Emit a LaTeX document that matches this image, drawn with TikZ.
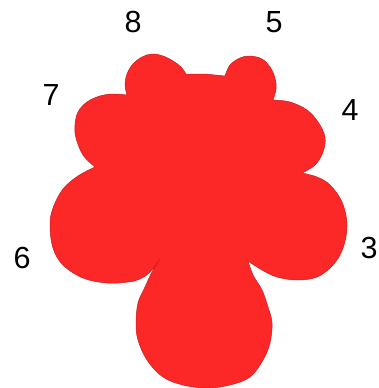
\documentclass[tikz,border=0pt]{standalone}
\usepackage{fontspec}
\setmainfont{Liberation Sans}
\definecolor{blob}{RGB}{252,40,40}
\definecolor{blobedge}{RGB}{200,30,30}
\begin{document}
\begin{tikzpicture}[x=1pt,y=-1pt,
  lbl/.style={inner sep=0pt,font=\fontsize{30.5}{30.5}\selectfont},
  lobe/.style={smooth,tension=0.6}]
\useasboundingbox (0,0) rectangle (379,388);
\filldraw[fill=blob,draw=blobedge,line width=0.5pt,line join=miter]
  plot[lobe] coordinates {(127,95) (125,85) (127,74) (133,64) (142,57) (152,54) (163,56) (173,61) (181,67) (186,74)}
  -- (205,74) --
  plot[lobe] coordinates {(225,76) (230,65) (240,58) (250,56) (262,59) (270,67) (275,78) (276,89) (273,100)}
  --
  plot[lobe] coordinates {(273,100) (290,102) (307,110) (318,122) (325,137) (323,152) (315,165) (302,173)}
  --
  plot[lobe] coordinates {(302,173) (317,177) (330,185) (342,202) (347,225) (343,248) (333,265) (317,277) (297,280) (277,277) (262,270) (248,261)}
  --
  plot[lobe] coordinates {(248,261) (253,275) (262,290) (268,307) (272,323) (270,343) (263,360) (250,377) (230,385) (207,388) (183,385) (163,377) (147,360) (138,340) (136,323) (138,303) (145,287) (152,272) (160,259)}
  --
  plot[lobe] coordinates {(160,259) (150,272) (140,279) (128,282) (107,283) (83,278) (63,265) (53,248) (50,225) (53,208) (63,189) (78,176) (95,167)}
  --
  plot[lobe] coordinates {(95,167) (83,155) (76,138) (75,125) (78,112) (87,102) (100,96) (113,94) (127,95)}
  -- cycle;
\node[lbl] (n8) at (133,22) {8};
\node[lbl] (n5) at (274,22) {5};
\node[lbl] (n7) at (51,95) {7};
\node[lbl] (n4) at (350,110) {4};
\node[lbl] (n6) at (22,258) {6};
\node[lbl] (n3) at (369,248) {3};
\end{tikzpicture}
\end{document}
